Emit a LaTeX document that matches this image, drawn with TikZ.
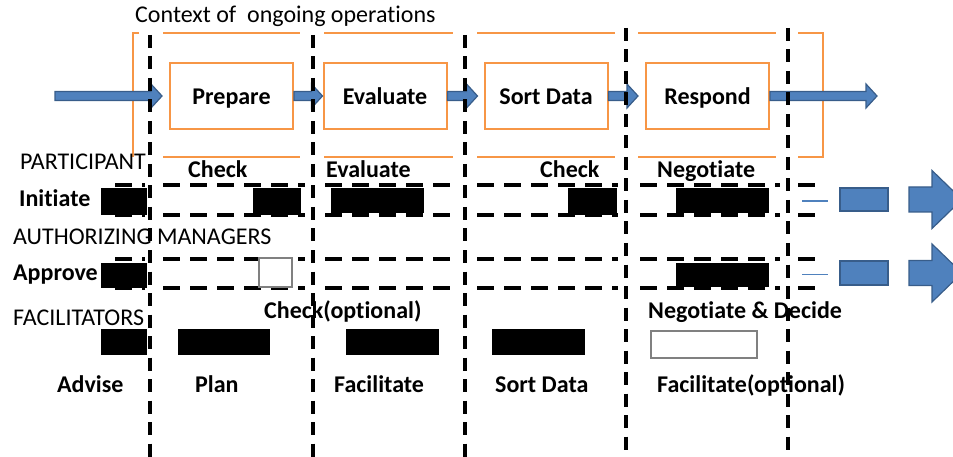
\documentclass[tikz,border=0pt]{standalone}
\usepackage{fontspec}
\setmainfont{Carlito}[Ligatures=CommonOff]
\usetikzlibrary{calc}
\definecolor{flowblue}{HTML}{4F81BD}
\definecolor{flowedge}{HTML}{385D8A}
\definecolor{ctxorange}{HTML}{F79646}
\definecolor{boxgrey}{HTML}{808080}
\begin{document}
\begin{tikzpicture}[x=1pt,y=-1pt,
  stage/.style={draw=ctxorange, line width=2pt, minimum width=123pt, minimum height=66pt,
    inner sep=0pt, text height=18pt, text depth=0pt, font=\fontsize{24}{28}\selectfont\bfseries},
  bar/.style={fill=black, inner sep=0pt},
  hollow/.style={draw=boxgrey, line width=1.5pt, fill=white, inner sep=0pt},
  lbl/.style={anchor=base west, inner sep=0pt, font=\fontsize{24}{28}\selectfont\bfseries},
  role/.style={anchor=base west, inner sep=0pt, font=\fontsize{24}{28}\selectfont},
  frame/.style={draw=ctxorange, line width=2pt},
  lane/.style={draw=black, line width=4.5pt, dash pattern=on 13pt off 8.5pt},
  track/.style={draw=black, line width=4.5pt, dash pattern=on 17pt off 10pt},
  barrow/.style={fill=flowblue, draw=flowedge, line width=1.2pt, line join=miter},
  tick/.style={draw=flowblue, line width=1.5pt},
  tile/.style={fill=flowblue, draw=flowedge, line width=1.5pt, inner sep=0pt}]
\useasboundingbox (0,0) rectangle (953,457);
\clip (0,0) rectangle (953,457);

% context frame, broken where the lane separators cross it
\draw[frame] (139,33) -- (133,33) -- (133,157);
\foreach \a/\b in {163/300, 324/453, 477/615, 638/776}{
  \draw[frame] (\a,33) -- (\b,33);
  \draw[frame] (\a,157) -- (\b,157);
}
\draw[frame] (798,33) -- (823,33) -- (823,157) -- (798,157);

\node[role, anchor=base west] (ctx) at (135,23) {Context of~ ongoing operations};

% process stages
\node[stage] (prep) at (231.5,96) {Prepare};
\node[stage] (eval) at (385,96) {Evaluate};
\node[stage] (sort) at (546,96) {Sort Data};
\node[stage] (resp) at (707.5,96) {Respond};
\coordinate (src) at (55,96);
\coordinate (snk) at (877,96);

% block arrow between two points on the same level
\newcommand\flowarrow[2]{%
  \draw[barrow] let \p1=(#1), \p2=(#2) in
    (\x1,\y1+4.5pt) -- (\x2-11pt,\y1+4.5pt) -- (\x2-11pt,\y1+12pt) -- (\x2,\y1)
    -- (\x2-11pt,\y1-12pt) -- (\x2-11pt,\y1-4.5pt) -- (\x1,\y1-4.5pt) -- cycle;}
\flowarrow{src}{$(prep.west)+(-7,0)$}
\flowarrow{prep.east}{eval.west}
\flowarrow{eval.east}{$(sort.west)+(-6,0)$}
\flowarrow{sort.east}{$(resp.west)+(-7,0)$}
\flowarrow{resp.east}{snk}

% horizontal tracks of the two upper roles, one piece per column
\foreach \y in {185,215,259,288}{
  \foreach \a/\b in {115/145, 163/305, 325/456, 477/618, 640/780, 798/825}{
    \draw[track] (\a,\y) -- (\b,\y);
  }
}

% role titles and activity labels
\node[role] (participant) at (20,170) {PARTICIPANT};
\node[role] (authorizing) at (13,244) {AUTHORIZING MANAGERS};
\node[role] (facilitators) at (13,325) {FACILITATORS};

\node[lbl] (initiate) at (19,207) {Initiate};
\node[lbl] (approve) at (13,280) {Approve};
\node[lbl] (advise) at (57,392) {Advise};

\node[lbl] (chk1) at (188,178) {Check};
\node[lbl] (evl) at (326,178) {Evaluate};
\node[lbl] (chk2) at (540,178) {Check};
\node[lbl] (neg) at (657,178) {Negotiate};

\node[lbl] (chkopt) at (264,318) {Check(optional)};
\node[lbl] (negdec) at (648,318) {Negotiate \& Decide};

\node[lbl] (plan) at (195,392) {Plan};
\node[lbl] (facil) at (334,392) {Facilitate};
\node[lbl] (sortd) at (495,392) {Sort Data};
\node[lbl] (facopt) at (657,392) {Facilitate(optional)};

% participant activity bars
\node[bar, minimum width=46pt, minimum height=27pt] (ia) at (124,201.5) {};
\node[bar, minimum width=48pt, minimum height=27pt] (ib) at (277,201.5) {};
\node[bar, minimum width=93pt, minimum height=25pt] (ic) at (377.5,200.5) {};
\node[bar, minimum width=49pt, minimum height=27pt] (id) at (592.5,201.5) {};
\node[bar, minimum width=93pt, minimum height=25pt] (ie) at (722.5,200.5) {};

% authorizing manager bars
\node[bar, minimum width=46pt, minimum height=25pt] (aa) at (124,275.5) {};
\node[hollow, minimum width=33pt, minimum height=29pt] (ab) at (275.5,272.5) {};
\node[bar, minimum width=93pt, minimum height=24pt] (ae) at (722.5,275) {};

% facilitator bars
\node[bar, minimum width=46pt, minimum height=26pt] (fa) at (124,342) {};
\node[bar, minimum width=92pt, minimum height=26pt] (fb) at (224,342) {};
\node[bar, minimum width=93pt, minimum height=26pt] (fc) at (392.5,342) {};
\node[bar, minimum width=93pt, minimum height=26pt] (fd) at (538.5,342) {};
\node[hollow, minimum width=106pt, minimum height=27pt] (fe) at (704,344.5) {};

% lane separators
\foreach \x/\t in {150/35, 313/35, 465/35, 626/28, 788/28}{
  \draw[lane] (\x,\t) -- (\x,457);
}

% continuation marks on the right
\foreach \y/\h in {199.5/23, 273/24}{
  \draw[tick] (802,\y+1.5) -- (828,\y+1.5);
  \node[tile, minimum width=48pt, minimum height=\h pt] at (864,\y) {};
  \draw[barrow] (909,\y-12.5) -- (932,\y-12.5) -- (932,\y-29) -- (962,\y)
    -- (932,\y+29) -- (932,\y+12.5) -- (909,\y+12.5) -- cycle;
}
\end{tikzpicture}
\end{document}
